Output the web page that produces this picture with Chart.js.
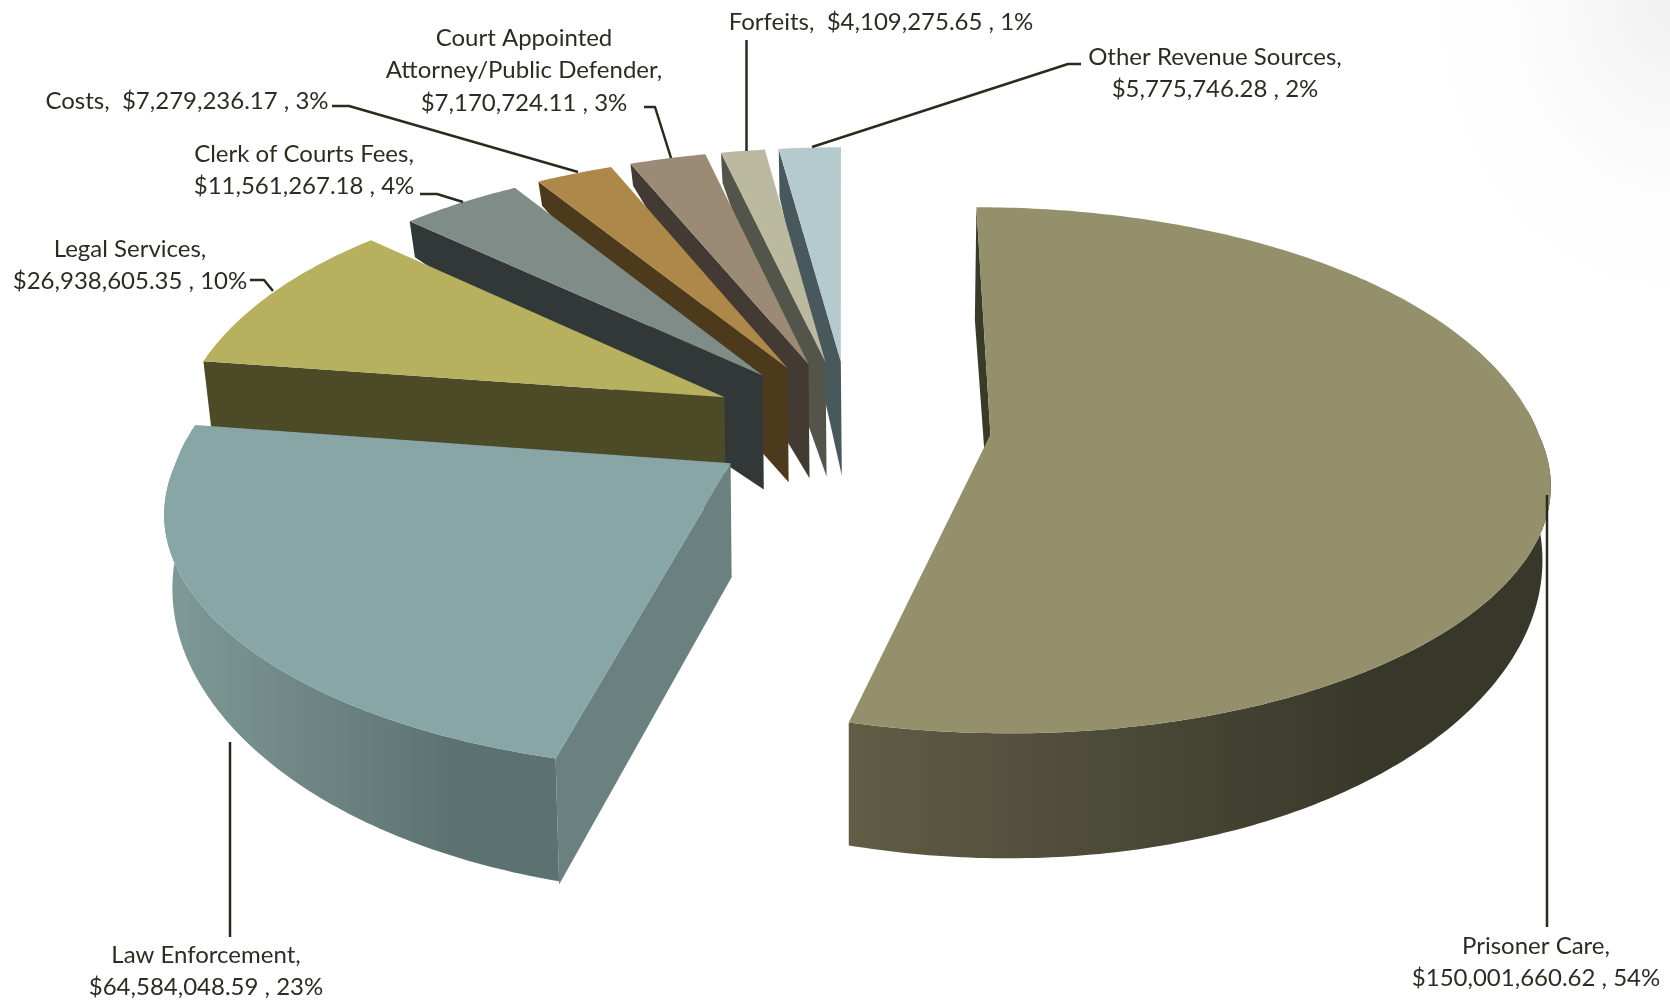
<!DOCTYPE html>
<html>
<head>
<meta charset="utf-8">
<title>Expenditures by category</title>
<style>
  html, body { margin: 0; padding: 0; background: #fff; }
  #wrap { width: 1670px; height: 1003px; position: relative; }
</style>
<script src="https://cdn.jsdelivr.net/npm/chart.js@4"></script>
</head>
<body>
<div id="wrap"><canvas id="pie" width="1670" height="1003"></canvas></div>
<script>
// Spending categories, clockwise from twelve o'clock
const categories = [
  "Prisoner Care", "Law Enforcement", "Legal Services", "Clerk of Courts Fees",
  "Costs", "Court Appointed Attorney/Public Defender", "Forfeits", "Other Revenue Sources"
];
const amounts = [
  150001660.62, 64584048.59, 26938605.35, 11561267.18,
  7279236.17, 7170724.11, 4109275.65, 5775746.28
];
const shares = [54, 23, 10, 4, 3, 3, 1, 2];

// Name lines of every callout; a null means name and amount share one line
const nameLines = [
  ["Prisoner Care,"], ["Law Enforcement,"], ["Legal Services,"], ["Clerk of Courts Fees,"],
  null, ["Court Appointed", "Attorney/Public Defender,"], null, ["Other Revenue Sources,"]
];
const inlineNames = ["", "", "", "", "Costs,  ", "", "Forfeits,  ", ""];

// Colours: top face, start-side wall, rim wall from left to right
const topColors  = ["#93906b", "#88a6a6", "#b6b05f", "#808c88", "#ae8849", "#9b8a76", "#bcb9a1", "#b4cacc"];
const sideColors = ["#3a3a28", "#6a8180", "#4c4a27", "#323838", "#4d3a1c", "#433a33", "#54554a", "#49585c"];
const rimFrom    = ["#605d46", "#7f9a98", "#4c4a27", "#323838", "#4d3a1c", "#433a33", "#54554a", "#49585c"];
const rimTo      = ["#38382a", "#5c7270", "#4c4a27", "#323838", "#4d3a1c", "#433a33", "#54554a", "#49585c"];

// Wall depth at the outer end of each start-side wall
const sideDepth = [113, 126, 66, 36, 24, 22, 30, 48];

// Callout placement: text centre, line pitch, leader polyline
const calloutCentres = [[1536, 946], [206, 955], [130, 249], [304, 154], [187, 101], [524, 38], [881, 22], [1215, 57]];
const leaderPaths = [
  [[1547, 495], [1547, 927]],
  [[230, 742], [230, 937]],
  [[250, 280], [264, 280], [273, 291]],
  [[420, 194], [437, 194], [463, 202]],
  [[332, 106], [349, 106], [578, 172]],
  [[644, 107], [655, 107], [671, 158]],
  [[746.5, 40], [746.5, 151]],
  [[1081, 64], [1068, 64], [812, 147]]
];
const linePitch = 32.5;
const labelFont = '24px Lato';
const textColor = '#2e2c22';
const leaderColor = '#2b2a1f';

// Perspective of the pie's top plane
const view = { vx: 842, vy: -1974, A: 561, B: 2400, C: 8, p: 0.11, apexDepth: 114, lean: 0.012 };

function project(u, v) {
  const w = 1 - view.p * v;
  return [view.vx + (view.A * u + view.C) / w, view.vy + view.B / w];
}

// Wall depth along the curved rim: shallow at the sides, deep at the front
function rimDepth(angle) {
  return 62 + 63 * Math.max(0, Math.sin(angle));
}

// The far half of the disc is drawn slightly tighter than the near half
function rimRadius(angle) {
  const s = Math.sin(angle);
  const inset = s > 0 ? 0.026 * (1 - Math.tanh(3 * s)) : 0.026 + 0.013 * Math.tanh(-3 * s);
  return 1 - inset;
}
function rimDepthScale(angle) {
  return 1 - 0.018 * Math.max(0, -Math.sin(angle));
}

// Pie controller that paints each arc as a solid wedge, far slices first
class Pie3DController extends Chart.PieController {
  draw() {
    const ctx = this.chart.ctx;
    const arcs = this._cachedMeta.data;
    for (let i = arcs.length - 1; i >= 0; i--) {
      this.paintWedge(ctx, arcs[i], i);
    }
  }

  paintWedge(ctx, arc, i) {
    const { startAngle, endAngle, outerRadius } = arc.getProps(['startAngle', 'endAngle', 'outerRadius'], true);
    const explode = arc.options.offset / outerRadius;
    const mid = (startAngle + endAngle) / 2;
    const ou = explode * Math.cos(mid), ov = explode * Math.sin(mid);
    const apex = project(ou, ov);
    const rimAt = a => {
      const r = rimRadius(a);
      return project(ou + r * Math.cos(a), ov + r * rimDepthScale(a) * Math.sin(a));
    };
    const drop = (p, d) => [p[0] + (850 - p[0]) * view.lean, p[1] + d];

    const rim = [];
    const steps = Math.max(2, Math.ceil((endAngle - startAngle) / (Math.PI / 240)));
    for (let s = 0; s <= steps; s++) {
      rim.push(startAngle + (endAngle - startAngle) * s / steps);
    }
    const pts = rim.map(rimAt);

    // Curved outer wall, only where the rim faces the front
    const front = rim.filter(a => Math.sin(a) > -0.1);
    if (front.length > 1) {
      const topEdge = front.map(rimAt);
      const lowEdge = front.map((a, k) => drop(topEdge[k], rimDepth(a)));
      const xs = topEdge.map(p => p[0]);
      const x0 = Math.min(...xs), x1 = Math.max(...xs);
      const grad = ctx.createLinearGradient(x0, 0, x0 + (x1 - x0) * 0.75, 0);
      grad.addColorStop(0, rimFrom[i]);
      grad.addColorStop(1, rimTo[i]);
      ctx.fillStyle = grad;
      ctx.beginPath();
      topEdge.forEach((p, k) => k ? ctx.lineTo(p[0], p[1]) : ctx.moveTo(p[0], p[1]));
      lowEdge.reverse().forEach(p => ctx.lineTo(p[0], p[1]));
      ctx.closePath();
      ctx.fill();
    }

    // Flat wall along the start edge
    const outerTop = pts[0];
    const outerLow = drop(outerTop, sideDepth[i]);
    ctx.fillStyle = sideColors[i];
    ctx.beginPath();
    ctx.moveTo(apex[0], apex[1]);
    ctx.lineTo(outerTop[0], outerTop[1]);
    ctx.lineTo(outerLow[0], outerLow[1]);
    ctx.lineTo(apex[0] + 1, apex[1] + view.apexDepth);
    ctx.closePath();
    ctx.fill();

    // Top face
    ctx.fillStyle = topColors[i];
    ctx.beginPath();
    ctx.moveTo(apex[0], apex[1]);
    pts.forEach(p => ctx.lineTo(p[0], p[1]));
    ctx.closePath();
    ctx.fill();
  }
}
Pie3DController.id = 'pie3d';
Pie3DController.defaults = Chart.PieController.defaults;
Pie3DController.overrides = Chart.PieController.overrides;
Chart.register(Pie3DController);

const pageShade = {
  id: 'pageShade',
  beforeDraw(chart) {
    const { ctx, width, height } = chart;
    ctx.save();
    ctx.fillStyle = '#ffffff';
    ctx.fillRect(0, 0, width, height);
    ctx.translate(width, 0);
    ctx.scale(1, 1.25);
    const g = ctx.createRadialGradient(0, 0, 0, 0, 0, 300);
    g.addColorStop(0, 'rgba(205,205,205,0.3)');
    g.addColorStop(0.5, 'rgba(225,225,225,0.1)');
    g.addColorStop(1, 'rgba(255,255,255,0)');
    ctx.fillStyle = g;
    ctx.fillRect(-310, 0, 310, 310);
    ctx.restore();
  }
};

function money(value) {
  return '$' + value.toLocaleString('en-US', { minimumFractionDigits: 2, maximumFractionDigits: 2 });
}

const callouts = {
  id: 'callouts',
  afterDraw(chart) {
    const ctx = chart.ctx;
    ctx.save();
    ctx.strokeStyle = leaderColor;
    ctx.lineWidth = 2.5;
    ctx.lineJoin = 'round';
    leaderPaths.forEach(path => {
      ctx.beginPath();
      path.forEach((p, k) => k ? ctx.lineTo(p[0], p[1]) : ctx.moveTo(p[0], p[1]));
      ctx.stroke();
    });
    ctx.font = labelFont;
    ctx.fillStyle = textColor;
    ctx.textAlign = 'center';
    ctx.textBaseline = 'middle';
    categories.forEach((name, i) => {
      const amountLine = inlineNames[i] + money(amounts[i]) + ' , ' + shares[i] + '%';
      const lines = (nameLines[i] || []).concat([amountLine]);
      lines.forEach((line, k) => {
        ctx.fillText(line, calloutCentres[i][0], calloutCentres[i][1] + k * linePitch);
      });
    });
    ctx.restore();
  }
};

new Chart(document.getElementById('pie'), {
  type: 'pie3d',
  data: {
    labels: categories,
    datasets: [{ data: amounts, offset: 112, borderWidth: 0, backgroundColor: topColors }]
  },
  options: {
    responsive: false,
    animation: false,
    layout: { padding: 0 },
    plugins: { legend: { display: false }, tooltip: { enabled: false } }
  },
  plugins: [pageShade, callouts]
});
</script>
</body>
</html>
